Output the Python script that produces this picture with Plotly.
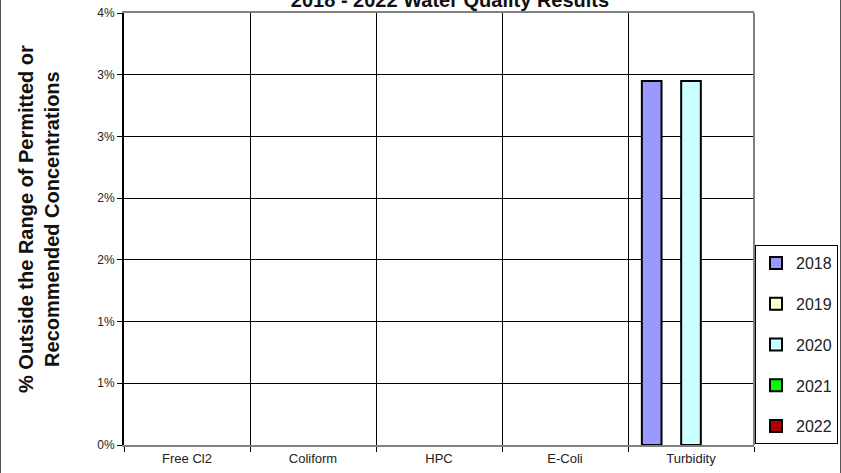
import plotly.graph_objects as go

categories = ["Free Cl2", "Coliform", "HPC", "E-Coli", "Turbidity"]
years = ["2018", "2019", "2020", "2021", "2022"]
values_2018 = [0, 0, 0, 0, 2.95]
values_2019 = [0, 0, 0, 0, 0]
values_2020 = [0, 0, 0, 0, 2.95]
values_2021 = [0, 0, 0, 0, 0]
values_2022 = [0, 0, 0, 0, 0]
series_values = [values_2018, values_2019, values_2020, values_2021, values_2022]
colors = ["#9999FF", "#FFFFCC", "#CCFFFF", "#00FF00", "#B00000"]
tick_vals = [0, 0.5, 1.0, 1.5, 2.0, 2.5, 3.0, 3.5]
tick_text = ["0%", "1%", "1%", "2%", "2%", "3%", "3%", "4%"]

W, H = 841, 473
L, R, T, B = 124, 87, 13, 28
pw, ph = W - L - R, H - T - B

def px_x(px):
    return (px - L) / pw

def px_y(py):
    return (H - B - py) / ph

fig = go.Figure()
for yr, vals, col in zip(years, series_values, colors):
    # zero values are shown as no bar (as in the reference)
    shown = [v if v != 0 else None for v in vals]
    fig.add_trace(go.Bar(
        name=yr, x=categories, y=shown, legendgroup=yr,
        marker=dict(color=col, line=dict(color="black", width=2)),
    ))

FONT = "Liberation Sans, Arial, sans-serif"
fig.update_layout(
    width=W, height=H,
    margin=dict(l=L, r=R, t=T, b=B, autoexpand=False),
    paper_bgcolor="white", plot_bgcolor="white",
    barmode="group", bargap=0.22, bargroupgap=0,
    font=dict(family=FONT, color="#222"),
    title=dict(text="<b>2018 - 2022 Water Quality Results</b>",
               x=450 / W, xanchor="center", y=1.0, yanchor="middle",
               yref="container", font=dict(size=20, color="#111")),
    showlegend=True,
    legend=dict(x=px_x(755), xanchor="left", y=px_y(245), yanchor="top",
                bgcolor="white", bordercolor="black", borderwidth=1,
                font=dict(size=16, color="#222"), traceorder="grouped",
                tracegroupgap=17, itemwidth=30),
    xaxis=dict(showgrid=True, gridcolor="black", gridwidth=1,
               tickson="boundaries", ticks="outside", ticklen=5,
               tickcolor="black", showline=True, linecolor="#808080",
               linewidth=2, mirror=True, automargin=False,
               tickfont=dict(size=13, color="#222")),
    yaxis=dict(range=[0, 3.5], tickvals=tick_vals, ticktext=tick_text,
               showgrid=True, gridcolor="black", gridwidth=1,
               ticks="outside", ticklen=5, tickcolor="black",
               showline=True, linecolor="black", linewidth=2,
               zeroline=False, automargin=False,
               tickfont=dict(size=12, color="#222")),
    annotations=[dict(
        text="<b>% Outside the Range of Permitted or<br>Recommended Concentrations</b>",
        x=px_x(39), y=px_y(219), xref="paper", yref="paper",
        showarrow=False, textangle=-90, font=dict(size=20, color="#111"),
        xanchor="center", yanchor="middle")],
    shapes=[
        dict(type="line", xref="paper", yref="paper", x0=1, x1=1, y0=0, y1=1,
             line=dict(color="#808080", width=2)),
        dict(type="line", xref="paper", yref="paper",
             x0=px_x(0.5), x1=px_x(0.5), y0=px_y(473), y1=px_y(0),
             line=dict(color="#555", width=1)),
        dict(type="line", xref="paper", yref="paper",
             x0=px_x(840.5), x1=px_x(840.5), y0=px_y(473), y1=px_y(0),
             line=dict(color="#555", width=1)),
    ],
)

fig.write_html("out.html", config={"displayModeBar": False},
               post_script="document.body.style.margin='0';")
